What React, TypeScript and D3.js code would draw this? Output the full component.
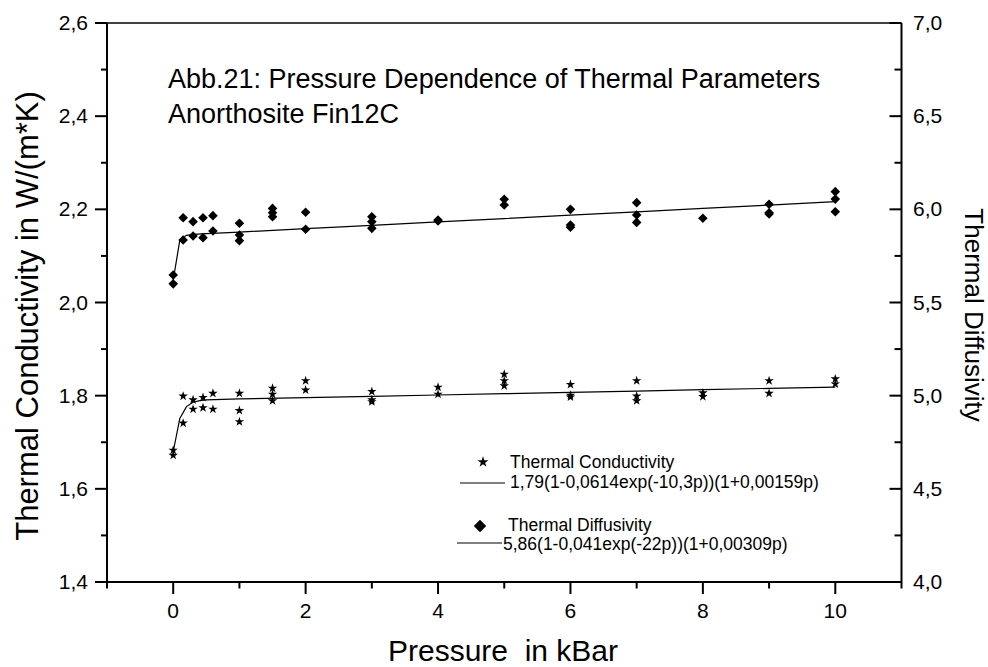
import React from "react";
import * as d3 from "d3";

// ---- Data ----
// Thermal conductivity measurements (left axis), pressure in kBar
const condP = [0, 0, 0.15, 0.15, 0.3, 0.3, 0.45, 0.45, 0.6, 0.6, 1, 1, 1, 1.5, 1.5, 1.5, 2, 2, 3, 3, 3, 4, 4, 5, 5, 5, 6, 6, 6, 7, 7, 7, 8, 8, 9, 9, 10, 10];
const condK = [1.683, 1.672, 1.799, 1.741, 1.791, 1.771, 1.796, 1.774, 1.805, 1.771, 1.805, 1.768, 1.744, 1.816, 1.803, 1.789, 1.832, 1.812, 1.809, 1.791, 1.787, 1.818, 1.803, 1.846, 1.832, 1.821, 1.824, 1.801, 1.797, 1.832, 1.799, 1.789, 1.806, 1.798, 1.832, 1.805, 1.836, 1.825];

// Thermal diffusivity measurements (right axis)
const diffP = [0, 0, 0.15, 0.15, 0.3, 0.3, 0.45, 0.45, 0.6, 0.6, 1, 1, 1, 1.5, 1.5, 1.5, 2, 2, 3, 3, 3, 4, 4, 5, 5, 6, 6, 6, 7, 7, 7, 8, 9, 9, 9, 10, 10, 10];
const diffA = [5.648, 5.6, 5.955, 5.835, 5.934, 5.857, 5.955, 5.848, 5.966, 5.884, 5.925, 5.862, 5.832, 6.005, 5.982, 5.96, 5.984, 5.893, 5.96, 5.934, 5.898, 5.943, 5.938, 6.054, 6.023, 6.0, 5.916, 5.904, 6.036, 5.97, 5.93, 5.952, 6.027, 5.982, 5.975, 6.095, 6.055, 5.987];

// Fit curves as drawn
const condFitP = [0, 0.1, 0.2, 0.3, 0.4, 0.5, 1, 2, 3, 4, 5, 6, 7, 8, 9, 10];
const condFitK = [1.68, 1.751, 1.7765, 1.7858, 1.7893, 1.7908, 1.7929, 1.7957, 1.7985, 1.8014, 1.8042, 1.8071, 1.8099, 1.8128, 1.8156, 1.8185];
const diffFitP = [0, 0.1, 0.2, 0.3, 0.5, 1, 2, 3, 4, 5, 6, 7, 8, 9, 10];
const diffFitA = [5.6197, 5.8352, 5.8607, 5.8651, 5.8691, 5.8781, 5.8962, 5.9143, 5.9324, 5.9505, 5.9686, 5.9868, 6.0049, 6.023, 6.0411];

// Ticks
const xMajor = [0, 2, 4, 6, 8, 10];
const xMinor = [-1, 1, 3, 5, 7, 9, 11];
const yLeftMajor = [1.4, 1.6, 1.8, 2.0, 2.2, 2.4, 2.6];
const yLeftMinor = [1.5, 1.7, 1.9, 2.1, 2.3, 2.5];
const yRightMajor = [4.0, 4.5, 5.0, 5.5, 6.0, 6.5, 7.0];
const yRightMinor = [4.25, 4.75, 5.25, 5.75, 6.25, 6.75];

const titleLines = ["Abb.21: Pressure Dependence of Thermal Parameters", "Anorthosite Fin12C"];
const legendLabels = ["Thermal Conductivity", "1,79(1-0,0614exp(-10,3p))(1+0,00159p)", "Thermal Diffusivity", "5,86(1-0,041exp(-22p))(1+0,00309p)"];

const FONT = "'Liberation Sans', Arial, Helvetica, sans-serif";

export default function App() {
  const W = 988, H = 667;
  const left = 107, right = 901.5, top = 23, bottom = 582;
  const x = d3.scaleLinear().domain([-1, 11]).range([left, right]);
  const yL = d3.scaleLinear().domain([1.4, 2.6]).range([bottom, top]);
  const yR = d3.scaleLinear().domain([4, 7]).range([bottom, top]);
  const fmt = (v: number) => d3.format(".1f")(v).replace(".", ",");

  const condLine = d3.line<number>().x((_, i) => x(condFitP[i])).y((d) => yL(d))(condFitK) || "";
  const diffLine = d3.line<number>().x((_, i) => x(diffFitP[i])).y((d) => yR(d))(diffFitA) || "";

  const star = d3.symbol().type(d3.symbolStar).size(28)() || "";
  const starBig = d3.symbol().type(d3.symbolStar).size(38)() || "";
  const diamond = d3.symbol().type(d3.symbolSquare).size(46)() || "";
  const diamondBig = d3.symbol().type(d3.symbolSquare).size(78)() || "";

  return (
    <svg width={W} height={H} style={{ position: "absolute", left: 0, top: 0, background: "#fff" }} fontFamily={FONT}>
      <rect x={0} y={0} width={W} height={H} fill="#fff" />
      {/* axes frame */}
      <line x1={left} x2={right} y1={top} y2={top} stroke="#000" strokeWidth={1.6} />
      <line x1={left} x2={right} y1={bottom} y2={bottom} stroke="#000" strokeWidth={2} />
      <line x1={left} x2={left} y1={top} y2={bottom} stroke="#000" strokeWidth={2} />
      <line x1={right} x2={right} y1={top} y2={bottom} stroke="#000" strokeWidth={2} />

      {/* bottom ticks */}
      {xMajor.map((v) => (
        <g key={"xm" + v}>
          <line x1={x(v)} x2={x(v)} y1={bottom} y2={bottom + 12} stroke="#000" strokeWidth={2} />
          <text x={x(v)} y={618} fontSize={21} textAnchor="middle">{v}</text>
        </g>
      ))}
      {xMinor.map((v) => (
        <line key={"xn" + v} x1={x(v)} x2={x(v)} y1={bottom} y2={bottom + 6.5} stroke="#000" strokeWidth={2} />
      ))}

      {/* left ticks */}
      {yLeftMajor.map((v) => (
        <g key={"yl" + v}>
          <line x1={left - 12} x2={left} y1={yL(v)} y2={yL(v)} stroke="#000" strokeWidth={2} />
          <text x={88} y={yL(v) + 7} fontSize={21} textAnchor="end">{fmt(v)}</text>
        </g>
      ))}
      {yLeftMinor.map((v) => (
        <line key={"yln" + v} x1={left - 6} x2={left} y1={yL(v)} y2={yL(v)} stroke="#000" strokeWidth={2} />
      ))}

      {/* right ticks (inward) */}
      {yRightMajor.map((v) => (
        <g key={"yr" + v}>
          <line x1={right - 12} x2={right} y1={yR(v)} y2={yR(v)} stroke="#000" strokeWidth={2} />
          <text x={913} y={yR(v) + 7} fontSize={21} textAnchor="start">{fmt(v)}</text>
        </g>
      ))}
      {yRightMinor.map((v) => (
        <line key={"yrn" + v} x1={right - 7} x2={right} y1={yR(v)} y2={yR(v)} stroke="#000" strokeWidth={2} />
      ))}

      {/* axis titles */}
      <text transform={`translate(38,316) rotate(-90)`} fontSize={31} textAnchor="middle">Thermal Conductivity in W/(m*K)</text>
      <text transform={`translate(965,315) rotate(90)`} fontSize={26} textAnchor="middle">Thermal Diffusivity</text>
      <text x={503} y={661} fontSize={30} textAnchor="middle" style={{ whiteSpace: "pre" }} xmlSpace="preserve">Pressure  in kBar</text>

      {/* title */}
      {titleLines.map((t, i) => (
        <text key={t} x={168} y={88 + i * 35} fontSize={27}>{t}</text>
      ))}

      {/* fit lines */}
      <path d={condLine} fill="none" stroke="#000" strokeWidth={1.2} />
      <path d={diffLine} fill="none" stroke="#000" strokeWidth={1.2} />

      {/* markers */}
      {diffP.map((p, i) => (
        <path key={"d" + i} d={diamond} transform={`translate(${x(p)},${yR(diffA[i])}) rotate(45)`} fill="#000" />
      ))}
      {condP.map((p, i) => (
        <path key={"c" + i} d={star} transform={`translate(${x(p)},${yL(condK[i])})`} fill="#000" />
      ))}

      {/* legend */}
      <path d={starBig} transform="translate(483,462)" fill="#000" />
      <text x={510} y={468} fontSize={17.5}>{legendLabels[0]}</text>
      <line x1={460} x2={505} y1={483} y2={483} stroke="#000" strokeWidth={1.2} />
      <text x={510} y={488} fontSize={17.5}>{legendLabels[1]}</text>
      <path d={diamondBig} transform="translate(480,526) rotate(45)" fill="#000" />
      <text x={508} y={531} fontSize={17.5}>{legendLabels[2]}</text>
      <line x1={457} x2={502} y1={543} y2={543} stroke="#000" strokeWidth={1.2} />
      <text x={503} y={550} fontSize={17.5}>{legendLabels[3]}</text>
    </svg>
  );
}
